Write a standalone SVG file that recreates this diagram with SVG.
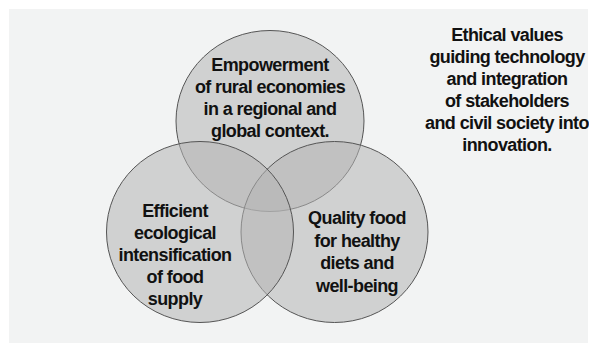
<svg xmlns="http://www.w3.org/2000/svg" width="589" height="343" viewBox="0 0 589 343">
<style>
.c{fill:#b4b4b4;fill-opacity:0.55;stroke:#555;stroke-width:1}
.t{font-family:"Liberation Sans",Arial,sans-serif;font-weight:bold;font-size:18px;letter-spacing:-0.6px;fill:#111;text-anchor:middle}
</style>
<rect x="0" y="0" width="589" height="343" fill="#ffffff"/>
<rect x="9" y="9" width="579" height="334" fill="#f2f3f3"/>
<g id="top"><ellipse class="c" cx="270" cy="121" rx="94" ry="90.5"/></g>
<g id="right"><ellipse class="c" cx="334.5" cy="232" rx="93.5" ry="90.5"/></g>
<g id="left"><ellipse class="c" cx="200" cy="232" rx="93.5" ry="90.5"/></g>
<g id="top-label" class="t">
<text x="270" y="71">Empowerment</text>
<text x="270" y="93">of rural economies</text>
<text x="270" y="115">in a regional and</text>
<text x="270" y="137">global context.</text>
</g>
<g id="left-label" class="t">
<text x="175" y="217">Efficient</text>
<text x="175" y="239">ecological</text>
<text x="175" y="261">intensification</text>
<text x="175" y="283">of food</text>
<text x="175" y="305">supply</text>
</g>
<g id="right-label" class="t">
<text x="357" y="224">Quality food</text>
<text x="357" y="246.5">for healthy</text>
<text x="357" y="269">diets and</text>
<text x="357" y="291.5">well-being</text>
</g>
<g id="ethics" class="t">
<text x="507" y="40.5">Ethical values</text>
<text x="507" y="62.5">guiding technology</text>
<text x="507" y="84.5">and integration</text>
<text x="507" y="106.5">of stakeholders</text>
<text x="507" y="129">and civil society into</text>
<text x="507" y="151">innovation.</text>
</g>
<g id="connectors"></g>
</svg>
